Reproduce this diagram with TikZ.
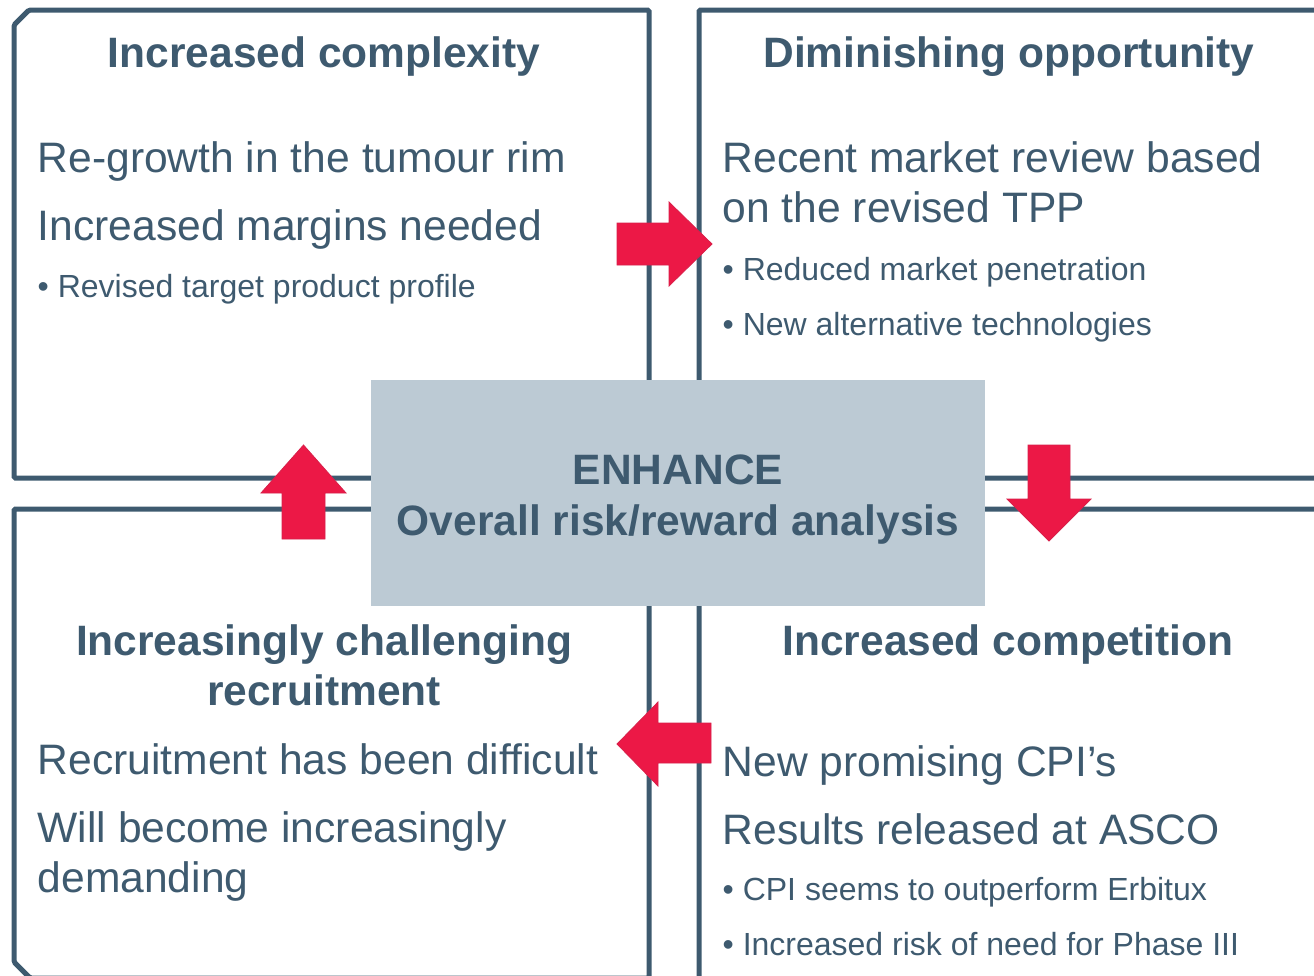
\documentclass[tikz,border=0pt]{standalone}
\usepackage{fontspec}
\setmainfont{Liberation Sans}
\definecolor{ln}{HTML}{3E5A6F}
\definecolor{tx}{HTML}{3E5A6F}
\definecolor{cb}{HTML}{BCCAD4}
\definecolor{rd}{HTML}{EC1846}
\definecolor{rdd}{HTML}{D8204A}
\begin{document}
\begin{tikzpicture}[x=1pt,y=-1pt,
  box/.style={draw=ln,line width=5pt,rounded corners=1.5pt},
  big/.style={font=\fontsize{42.6}{51}\selectfont,text=tx,inner sep=0pt},
  ttl/.style={font=\fontsize{42.5}{51}\selectfont\bfseries,text=tx,inner sep=0pt},
  sm/.style={font=\fontsize{32}{38}\selectfont,text=tx,inner sep=0pt},
  arr/.style={fill=rd,draw=rdd,line width=0.8pt,line join=miter}]
\useasboundingbox (0,0) rectangle (1314,975);
\begin{scope}
\clip (0,0) rectangle (1314,975);
% quadrant frames
\draw[box] (14,25) -- (29,10) -- (649,10) -- (649,478) -- (14,478) -- cycle;
\draw[box] (1340,10) -- (699,10) -- (699,478) -- (1340,478);
\draw[box] (649,1000) -- (649,509) -- (14,509) -- (14,962) -- (30,978) -- (649,978);
\draw[box] (1340,509) -- (699,509) -- (699,1000);
\end{scope}
% centre box
\node[fill=cb,minimum width=614pt,minimum height=226pt,inner sep=0pt,anchor=north west] (c) at (371,380) {};
\node[ttl,anchor=base] (c1) at (678,484) {ENHANCE};
\node[ttl,anchor=base] (c2) at (678,535.5) {Overall risk/reward analysis};
% arrows
\draw[arr] (617,223) -- (669,223) -- (669,202) -- (712,244) -- (669,286) -- (669,265) -- (617,265) -- cycle;
\draw[arr] (1028,445) -- (1070,445) -- (1070,499) -- (1091,499) -- (1049,541) -- (1007,499) -- (1028,499) -- cycle;
\draw[arr] (711,723) -- (711,763) -- (658,763) -- (658,786) -- (617,744) -- (658,702) -- (658,723) -- cycle;
\draw[arr] (282,539) -- (282,493) -- (261,493) -- (303.5,445) -- (346,493) -- (325,493) -- (325,539) -- cycle;
% top left
\node[ttl,anchor=base] (t1) at (324,67) {Increased complexity};
\node[big,anchor=base west] (a1) at (37.5,172) {Re-growth in the tumour rim};
\node[big,anchor=base west] (a2) at (37.5,240) {Increased margins needed};
\node[sm,anchor=base west] (a3) at (37.5,297) {• Revised target product profile};
% top right
\node[ttl,anchor=base] (t2) at (1009,67) {Diminishing opportunity};
\node[big,anchor=base west] (b1) at (722.5,172.5) {Recent market review based};
\node[big,anchor=base west] (b2) at (722.5,222.5) {on the revised TPP};
\node[sm,anchor=base west] (b3) at (722.5,280) {• Reduced market penetration};
\node[sm,anchor=base west] (b4) at (722.5,335) {• New alternative technologies};
% bottom left
\node[ttl,anchor=base] (t3) at (324,655.5) {Increasingly challenging};
\node[ttl,anchor=base] (t3b) at (324,705.5) {recruitment};
\node[big,anchor=base west] (d1) at (37.5,774.5) {Recruitment has been difficult};
\node[big,anchor=base west] (d2) at (37.5,842.5) {Will become increasingly};
\node[big,anchor=base west] (d3) at (37.5,892.5) {demanding};
% bottom right
\node[ttl,anchor=base] (t4) at (1008,655) {Increased competition};
\node[big,anchor=base west] (e1) at (722.5,776.5) {New promising CPI’s};
\node[big,anchor=base west] (e2) at (722.5,844.5) {Results released at ASCO};
\node[sm,anchor=base west] (e3) at (722.5,900) {• CPI seems to outperform Erbitux};
\node[sm,anchor=base west] (e4) at (722.5,955) {• Increased risk of need for Phase III};
\end{tikzpicture}
\end{document}
